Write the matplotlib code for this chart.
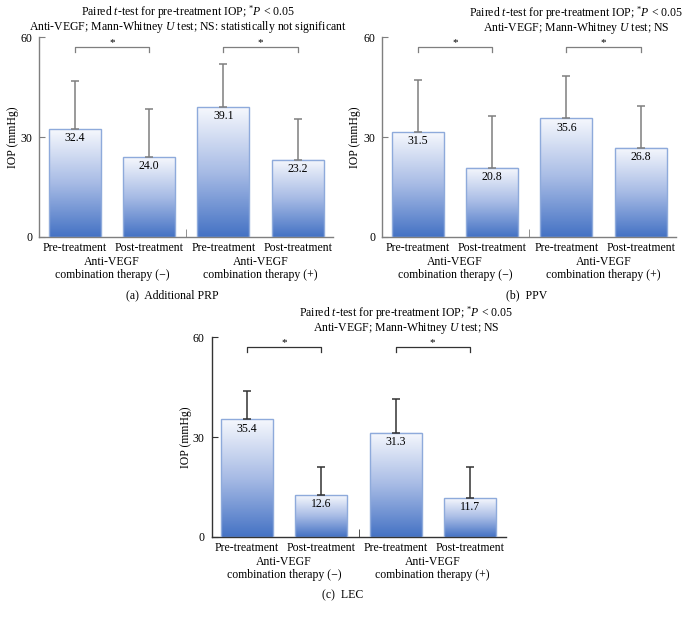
import numpy as np
import matplotlib

matplotlib.use("Agg")
import matplotlib.pyplot as plt
from matplotlib.colors import LinearSegmentedColormap
from matplotlib.patches import Rectangle
import matplotlib.transforms as mtransforms

plt.rcParams["font.family"] = ["Liberation Serif", "DejaVu Serif"]
plt.rcParams["mathtext.fontset"] = "custom"
plt.rcParams["mathtext.rm"] = "Liberation Serif"
plt.rcParams["mathtext.it"] = "Liberation Serif:italic"

# Data (mean IOP and SD, mmHg)
bar_labels = ["Pre-treatment", "Post-treatment", "Pre-treatment", "Post-treatment"]
group_labels = ["Anti-VEGF\ncombination therapy (\u2212)", "Anti-VEGF\ncombination therapy (+)"]

prp_mean = [32.4, 24.0, 39.1, 23.2]
prp_sd = [14.5, 14.4, 12.8, 12.3]
ppv_mean = [31.5, 20.8, 35.6, 26.8]
ppv_sd = [15.6, 15.6, 12.7, 12.5]
lec_mean = [35.4, 12.6, 31.3, 11.7]
lec_sd = [8.5, 8.3, 10.1, 9.2]

W, H = 684, 617
FS = 8.5

cmap = LinearSegmentedColormap.from_list("barfade", ["#4472c4", "#a7bbe5", "#f6f8fd"])
grad = np.linspace(0, 1, 256).reshape(-1, 1)


def px(x, y):
    return x / W, 1 - y / H


def draw_panel(ax, means, sds, line_col):
    xs = np.arange(len(means))
    width = 0.7
    for x, m in zip(xs, means):
        ax.imshow(grad, extent=[x - width / 2, x + width / 2, 0, m], origin="lower",
                  aspect="auto", cmap=cmap, zorder=2)
        ax.add_patch(Rectangle((x - width / 2, 0), width, m, fill=False,
                               edgecolor="#8eaadb", linewidth=1.0, zorder=3))
        ax.annotate(f"{m:.1f}", (x, m), xytext=(0, -2.5), textcoords="offset points",
                    ha="center", va="top", fontsize=FS, zorder=5)
    ax.errorbar(xs, means, yerr=[np.zeros(len(sds)), sds], fmt="none",
                ecolor=line_col, elinewidth=1.1, capsize=3, capthick=1.1, zorder=4)

    # significance brackets (pre vs post within each group)
    for x0, x1 in [(0, 1), (2, 3)]:
        ax.plot([x0, x0, x1, x1], [55.6, 57, 57, 55.6], color=line_col, lw=0.9,
                clip_on=False, zorder=4)
        ax.text((x0 + x1) / 2, 58.5, "*", ha="center", va="center", fontsize=FS - 0.5)

    ax.set_xlim(-0.48, 3.48)
    ax.set_ylim(0, 60)
    ax.set_yticks([0, 30, 60])
    ax.set_xticks(xs)
    ax.set_xticklabels(bar_labels, fontsize=FS)
    ax.set_xticks([1.5], minor=True)
    ax.tick_params(axis="x", which="major", length=0, pad=4)
    ax.tick_params(axis="x", which="minor", direction="in", length=6, color=line_col)
    ax.tick_params(axis="y", direction="in", length=4, labelsize=FS, pad=5, color=line_col)
    for s in ["top", "right"]:
        ax.spines[s].set_visible(False)
    for s in ["left", "bottom"]:
        ax.spines[s].set_color(line_col)
        ax.spines[s].set_linewidth(1.0)

    trans = mtransforms.blended_transform_factory(ax.transData, ax.transAxes)
    for gx, gl in zip([0.5, 2.5], group_labels):
        ax.text(gx, -0.095, gl, transform=trans, ha="center", va="top",
                fontsize=FS, linespacing=1.15)


fig = plt.figure(figsize=(W / 100, H / 100), dpi=100)

ax_a = fig.add_axes([39.3 / W, 1 - 236.7 / H, 294 / W, 199.4 / H])
ax_b = fig.add_axes([382.3 / W, 1 - 236.7 / H, 294 / W, 199.4 / H])
ax_c = fig.add_axes([211.5 / W, 1 - 536.7 / H, 294 / W, 199.4 / H])

draw_panel(ax_a, prp_mean, prp_sd, "#7f7f7f")
draw_panel(ax_b, ppv_mean, ppv_sd, "#7f7f7f")
draw_panel(ax_c, lec_mean, lec_sd, "#333333")

line1 = r"Paired $t$-test for pre-treatment IOP; ${}^{*}P$ < 0.05"
note_a = line1 + "\n" + r"Anti-VEGF; Mann-Whitney $U$ test; NS: statistically not significant"
note_bc = line1 + "\n" + r"Anti-VEGF; Mann-Whitney $U$ test; NS"
note_kw = dict(ha="center", va="center", fontsize=FS, linespacing=0.82, multialignment="center")
fig.text(*px(188, 19), note_a, **note_kw)
fig.text(*px(576, 20), note_bc, **note_kw)
fig.text(*px(406, 320), note_bc, **note_kw)

for (x, y) in [(13, 137), (355, 137), (186, 437)]:
    fig.text(*px(x, y), "IOP (mmHg)", rotation=90, ha="center", va="center", fontsize=FS)

fig.text(*px(172, 295), "(a)  Additional PRP", ha="center", va="center", fontsize=FS)
fig.text(*px(527, 295), "(b)  PPV", ha="center", va="center", fontsize=FS)
fig.text(*px(343, 595), "(c)  LEC", ha="center", va="center", fontsize=FS)

fig.savefig("out.png", dpi=100, facecolor="white")
